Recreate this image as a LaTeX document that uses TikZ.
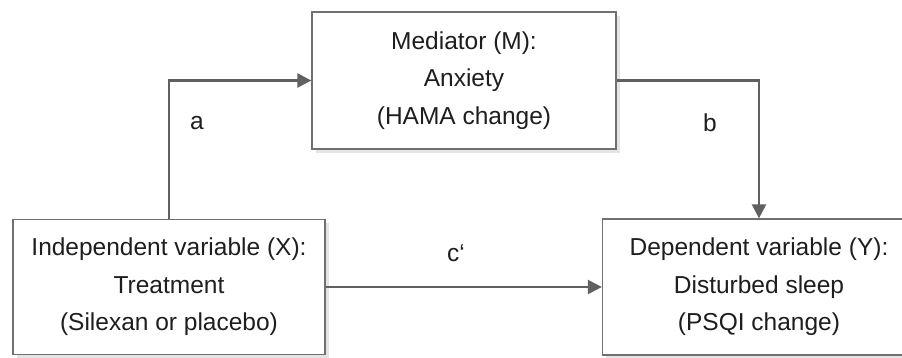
\documentclass[tikz,border=0pt]{standalone}
\usepackage{fontspec}
\setmainfont{Liberation Sans}
\usetikzlibrary{arrows.meta,shadows}
\definecolor{boxline}{HTML}{707070}
\definecolor{arrline}{HTML}{606060}
\definecolor{txt}{HTML}{1E1E1E}
\definecolor{shade}{HTML}{E4E4E4}
\begin{document}
\begin{tikzpicture}[x=1pt,y=-1pt,
  varbox/.style={draw=boxline, line width=1.3pt, fill=white, rectangle,
    inner sep=0pt, align=center, text=txt,
    font=\fontsize{24.5}{37.5}\selectfont,
    drop shadow={shadow xshift=3.5pt, shadow yshift=-3.5pt, fill=shade, opacity=1}},
  arr/.style={draw=arrline, line width=2.4pt, -{Triangle[length=14pt,width=14pt]}},
  lbl/.style={text=txt, font=\fontsize{24.5}{28}\selectfont, inner sep=0pt}]
\clip (0,0) rectangle (902,357);
\fill[white] (0,0) rectangle (902,357);
\node[varbox, minimum width=304pt, minimum height=137pt] (M) at (464,80.5)
  {Mediator (M):\\Anxiety\\(HAMA change)};
\node[varbox, minimum width=312pt, minimum height=135pt] (X) at (169,287)
  {Independent variable (X):\\Treatment\\(Silexan or placebo)};
\node[varbox, minimum width=313pt, minimum height=136pt] (Y) at (759,287)
  {Dependent variable (Y):\\Disturbed sleep\\(PSQI change)};
\draw[arr] (X.north) |- (M.west);
\draw[arr] (M.east) -| (Y.north);
\draw[arr] (X.east) -- (Y.west);
\node[lbl] (la) at (197,123) {a};
\node[lbl] (lb) at (710,123) {b};
\node[lbl] (lc) at (456,253) {c‘};
\end{tikzpicture}
\end{document}
